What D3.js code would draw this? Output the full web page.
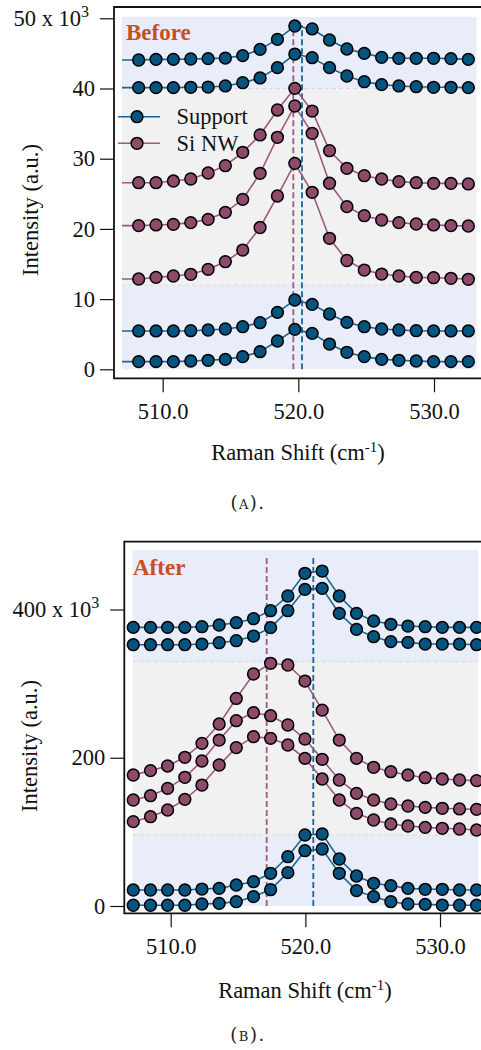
<!DOCTYPE html>
<html>
<head>
<meta charset="utf-8">
<script src="https://cdn.jsdelivr.net/npm/d3@7/dist/d3.min.js"></script>
<style>
  body { margin: 0; background: #fff; }
  svg { display: block; font-family: "Liberation Serif", "Times New Roman", serif; }
</style>
</head>
<body>
<svg id="chart" width="481" height="1050"></svg>
<script>
// Raman shift grid of each measurement (cm^-1)
var shiftBefore = [506.95, 508.23, 509.51, 510.79, 512.07, 513.35, 514.62, 515.90, 517.18, 518.46, 519.74,
                   521.02, 522.30, 523.58, 524.86, 526.14, 527.41, 528.69, 529.97, 531.25, 532.53];
var shiftAfter = [507.22, 508.50, 509.77, 511.05, 512.32, 513.60, 514.87, 516.15, 517.42, 518.70, 519.97,
                  521.25, 522.52, 523.80, 525.07, 526.35, 527.62, 528.90, 530.17, 531.45, 532.72];

// intensities, 10^3 counts, listed top trace first
var beforeSupport1 = [44.06, 44.06, 44.15, 44.15, 44.2, 44.25, 44.34, 44.68, 45.58, 47.0, 48.9,
                      48.48, 46.91, 45.63, 45.01, 44.44, 44.3, 44.3, 44.3, 44.25, 44.15];
var beforeSupport2 = [40.12, 40.12, 40.12, 40.12, 40.17, 40.21, 40.36, 40.83, 41.5, 42.97, 44.91,
                      44.39, 42.97, 41.78, 40.97, 40.55, 40.36, 40.26, 40.17, 40.17, 40.12];
var beforeNw1 = [26.58, 26.58, 26.58, 26.82, 27.11, 27.96, 29.0, 30.91, 33.38, 36.94, 40.02,
                 36.79, 31.14, 28.63, 27.58, 27.11, 26.73, 26.58, 26.49, 26.49, 26.4];
var beforeNw2 = [20.46, 20.46, 20.56, 20.65, 20.89, 21.36, 22.36, 24.2, 27.92, 33.05, 37.51,
                 33.62, 26.5, 23.17, 21.88, 21.27, 20.89, 20.7, 20.56, 20.46, 20.41];
var beforeNw3 = [12.86, 12.86, 13.1, 13.29, 13.53, 14.24, 15.33, 16.99, 20.2, 24.69, 29.34,
                 25.21, 18.66, 15.5, 14.14, 13.57, 13.29, 13.1, 13.05, 12.96, 12.82];
var beforeSupport3 = [5.46, 5.46, 5.46, 5.46, 5.5, 5.6, 5.74, 6.07, 6.64, 8.11, 9.87,
                      9.25, 7.88, 6.69, 6.07, 5.74, 5.6, 5.5, 5.46, 5.46, 5.46];
var beforeSupport4 = [1.09, 1.09, 1.09, 1.09, 1.18, 1.28, 1.42, 1.8, 2.51, 4.03, 5.69,
                      5.12, 3.6, 2.42, 1.8, 1.42, 1.28, 1.18, 1.09, 1.09, 1.09];

var afterSupport1 = [375.9, 375.9, 375.9, 375.9, 376.8, 379.1, 382.2, 387.6, 398.4, 418.2, 448.8,
                     451.9, 418.2, 394.8, 384.5, 380.0, 377.7, 376.8, 375.9, 375.9, 375.9];
var afterSupport2 = [352.5, 352.5, 352.5, 352.5, 353.4, 355.2, 357.9, 364.2, 375.5, 398.4, 427.2,
                     428.5, 394.8, 373.2, 363.3, 356.6, 355.7, 353.4, 353.4, 353.4, 352.5];
var afterNw1 = [176.7, 182.6, 188.9, 200.6, 219.4, 245.5, 280.0, 313.0, 327.4, 325.1, 303.5,
                264.2, 223.9, 199.2, 187.1, 181.2, 176.7, 173.1, 171.3, 170.0, 169.1];
var afterNw2 = [143.0, 148.8, 158.7, 173.6, 195.6, 223.9, 250.0, 260.8, 256.7, 244.2, 225.3,
                197.9, 170.0, 152.0, 143.0, 137.6, 134.9, 133.1, 131.8, 130.9, 130.4];
var afterNw3 = [113.8, 120.5, 129.5, 143.9, 163.2, 190.2, 213.6, 228.4, 226.2, 217.2, 199.2,
                171.3, 143.0, 125.0, 116.0, 110.6, 107.9, 106.1, 104.8, 103.9, 102.5];
var afterSupport3 = [21.6, 21.6, 21.6, 21.6, 22.9, 23.8, 28.3, 32.8, 44.1, 66.5, 95.8,
                     97.1, 63.4, 40.5, 30.6, 27.4, 23.8, 22.5, 22.5, 21.6, 21.6];
var afterSupport4 = [1.0, 1.0, 1.0, 1.0, 2.7, 3.6, 5.8, 12.6, 22.0, 45.0, 74.6,
                     76.9, 44.1, 20.7, 12.6, 5.8, 2.7, 2.2, 1.3, 1.0, 1.0];

// shaded bands (edges in 10^3 counts) and which sample each band belongs to
var bandEdgesBefore = [0, 12, 40, 50.2];
var bandEdgesAfter = [0, 95.8, 329.6, 480.3];
var bandKinds = ["support", "nw", "support"];

// fitted peak positions, Si NW then support
var peaksBefore = [519.63, 520.27];
var peaksAfter = [517.13, 520.59];

var xTicks = [510, 520, 530];
var yTicksBefore = [0, 10, 20, 30, 40, 50];
var yTicksAfter = [0, 200, 400];
var legendLabels = ["Support", "Si NW"];

var colors = {
    support: {fill: "#05547f", line: "#1a6690", band: "#e9ecf9"},
    nw: {fill: "#8d4a6b", line: "#9d5a7e", band: "#f1f1f1"}
};
var peakKinds = ["nw", "support"];
var fontSize = 22.5;
var markerR = 5.9;
var svg = d3.select("#chart");

function drawPanel(p) {
    var g = svg.append("g");
    var x = d3.scaleLinear().domain([510, 530]).range(p.xRange);
    var y = d3.scaleLinear().domain(p.yDomain).range(p.yRange);
    var bgLeft = x(p.bgDomain[0]), bgRight = x(p.bgDomain[1]);

    // bands
    g.selectAll(".band")
      .data(bandKinds)
      .enter().append("rect")
      .attr("x", bgLeft)
      .attr("width", bgRight - bgLeft)
      .attr("y", function(d, i) { return y(p.bands[i + 1]); })
      .attr("height", function(d, i) { return y(p.bands[i]) - y(p.bands[i + 1]); })
      .attr("fill", function(d) { return colors[d].band; });

    g.selectAll(".band-edge")
      .data(p.bands.slice(1, -1))
      .enter().append("line")
      .attr("x1", bgLeft).attr("x2", bgRight)
      .attr("y1", function(d) { return y(d); })
      .attr("y2", function(d) { return y(d); })
      .attr("stroke", "#d9d9e0").attr("stroke-width", 1)
      .attr("stroke-dasharray", "4,3");

    // peak positions
    g.selectAll(".peak")
      .data(p.peaks)
      .enter().append("line")
      .attr("x1", function(d) { return x(d); })
      .attr("x2", function(d) { return x(d); })
      .attr("y1", y(0)).attr("y2", y(p.peakTop))
      .attr("stroke", function(d, i) { return colors[peakKinds[i]].line; })
      .attr("stroke-width", 1.8)
      .attr("stroke-dasharray", "6,3");

    var clipId = "clip" + p.name;
    svg.append("clipPath").attr("id", clipId)
      .append("rect")
      .attr("x", bgLeft).attr("y", 0)
      .attr("width", 481 - bgLeft).attr("height", 1050);

    var line = d3.line()
      .x(function(d) { return x(d[0]); })
      .y(function(d) { return y(d[1]); });

    p.series.forEach(function(s) {
        var pts = p.shift.map(function(v, i) { return [v, s.values[i]]; });
        var c = colors[s.kind];
        g.append("path")
          .datum(pts)
          .attr("clip-path", "url(#" + clipId + ")")
          .attr("fill", "none")
          .attr("stroke", c.line)
          .attr("stroke-width", 1.6)
          .attr("d", line);
        g.selectAll(null)
          .data(pts.filter(function(d) { return d[0] >= p.bgDomain[0]; }))
          .enter().append("circle")
          .attr("cx", function(d) { return x(d[0]); })
          .attr("cy", function(d) { return y(d[1]); })
          .attr("r", markerR)
          .attr("fill", c.fill)
          .attr("stroke", "#000")
          .attr("stroke-width", 1.5);
    });

    // frame
    g.append("path")
      .attr("d", "M490," + p.frameTop + "H" + p.frameLeft + "V" + p.frameBottom + "H490")
      .attr("fill", "none")
      .attr("stroke", "#111")
      .attr("stroke-width", 1.8);

    var yAxis = g.append("g")
      .attr("transform", "translate(" + p.frameLeft + ",0)")
      .call(d3.axisLeft(y).tickValues(p.yTicks).tickSize(14).tickPadding(5).tickFormat(d3.format("d")));
    var xAxis = g.append("g")
      .attr("transform", "translate(0," + p.frameBottom + ")")
      .call(d3.axisBottom(x).tickValues(xTicks).tickSize(14).tickPadding(11).tickFormat(d3.format(".1f")));

    [yAxis, xAxis].forEach(function(a) {
        a.select(".domain").remove();
        a.selectAll("line").attr("stroke", "#111").attr("stroke-width", 1.2);
        a.selectAll("text").attr("font-family", "Liberation Serif").attr("font-size", fontSize).attr("fill", "#111");
    });

    // last y tick carries the 10^3 multiplier
    var top = yAxis.selectAll(".tick text").filter(function(d) { return d === p.yTicks[p.yTicks.length - 1]; });
    top.text(p.yTicks[p.yTicks.length - 1] + " x 10").attr("dx", "-6");
    top.append("tspan").attr("dy", "-0.55em").attr("font-size", 16).text("3");

    var xl = g.append("text")
      .attr("x", p.xLabelX).attr("y", p.xLabelY)
      .attr("text-anchor", "middle")
      .attr("font-size", fontSize).attr("fill", "#111")
      .text("Raman Shift (cm");
    xl.append("tspan").attr("dy", "-0.55em").attr("font-size", 15).text("-1");
    xl.append("tspan").attr("dy", "0.36em").text(")");

    g.append("text")
      .attr("transform", "translate(" + p.yLabelX + "," + p.yLabelY + ") rotate(-90)")
      .attr("text-anchor", "middle")
      .attr("font-size", fontSize).attr("fill", "#111")
      .text("Intensity (a.u.)");

    g.append("text")
      .attr("x", p.titleX).attr("y", p.titleY)
      .attr("font-size", 23).attr("font-weight", "bold")
      .attr("fill", "#c8501b")
      .text(p.title);

    g.append("text")
      .attr("x", p.captionX).attr("y", p.captionY)
      .attr("text-anchor", "middle")
      .attr("font-family", "DejaVu Serif, Liberation Serif, serif")
      .attr("font-size", 18).attr("fill", "#222")
      .attr("letter-spacing", 1.5)
      .style("font-variant", "small-caps")
      .text(p.caption);

    return {x: x, y: y, g: g};
}

var before = drawPanel({
    name: "before", title: "Before", caption: "(a).",
    shift: shiftBefore,
    series: [
        {values: beforeSupport1, kind: "support"},
        {values: beforeSupport2, kind: "support"},
        {values: beforeNw1, kind: "nw"},
        {values: beforeNw2, kind: "nw"},
        {values: beforeNw3, kind: "nw"},
        {values: beforeSupport3, kind: "support"},
        {values: beforeSupport4, kind: "support"}
    ],
    bands: bandEdgesBefore, peaks: peaksBefore, peakTop: 49,
    yTicks: yTicksBefore,
    xRange: [162.67, 434.0], yDomain: [0, 50], yRange: [369.3, 18.3],
    bgDomain: [507.0, 533.14],
    frameLeft: 114, frameTop: 7, frameBottom: 378.3,
    xLabelX: 298, xLabelY: 460, yLabelX: 38, yLabelY: 210,
    titleX: 126, titleY: 40, captionX: 248, captionY: 509
});

drawPanel({
    name: "after", title: "After", caption: "(b).",
    shift: shiftAfter,
    series: [
        {values: afterSupport1, kind: "support"},
        {values: afterSupport2, kind: "support"},
        {values: afterNw1, kind: "nw"},
        {values: afterNw2, kind: "nw"},
        {values: afterNw3, kind: "nw"},
        {values: afterSupport3, kind: "support"},
        {values: afterSupport4, kind: "support"}
    ],
    bands: bandEdgesAfter, peaks: peaksAfter, peakTop: 469.5,
    yTicks: yTicksAfter,
    xRange: [170.7, 440.0], yDomain: [0, 400], yRange: [906, 609.5],
    bgDomain: [507.18, 532.84],
    frameLeft: 124.3, frameTop: 541.7, frameBottom: 913.3,
    xLabelX: 305, xLabelY: 998, yLabelX: 37, yLabelY: 746,
    titleX: 133, titleY: 575, captionX: 248, captionY: 1041
});

// legend sits inside the "Before" panel
var legend = before.g.append("g")
  .selectAll("g")
  .data(legendLabels)
  .enter().append("g")
  .attr("transform", function(d, i) { return "translate(0," + (116.7 + i * 26.6) + ")"; });
legend.append("line")
  .attr("x1", 118).attr("x2", 160)
  .attr("stroke", function(d, i) { return colors[peakKinds[1 - i]].line; })
  .attr("stroke-width", 1.6);
legend.append("circle")
  .attr("cx", 137).attr("r", markerR)
  .attr("fill", function(d, i) { return colors[peakKinds[1 - i]].fill; })
  .attr("stroke", "#000").attr("stroke-width", 1.5);
legend.append("text")
  .attr("x", 176.5).attr("dy", "0.33em")
  .attr("font-size", fontSize).attr("fill", "#111")
  .text(function(d) { return d; });
</script>
</body>
</html>
